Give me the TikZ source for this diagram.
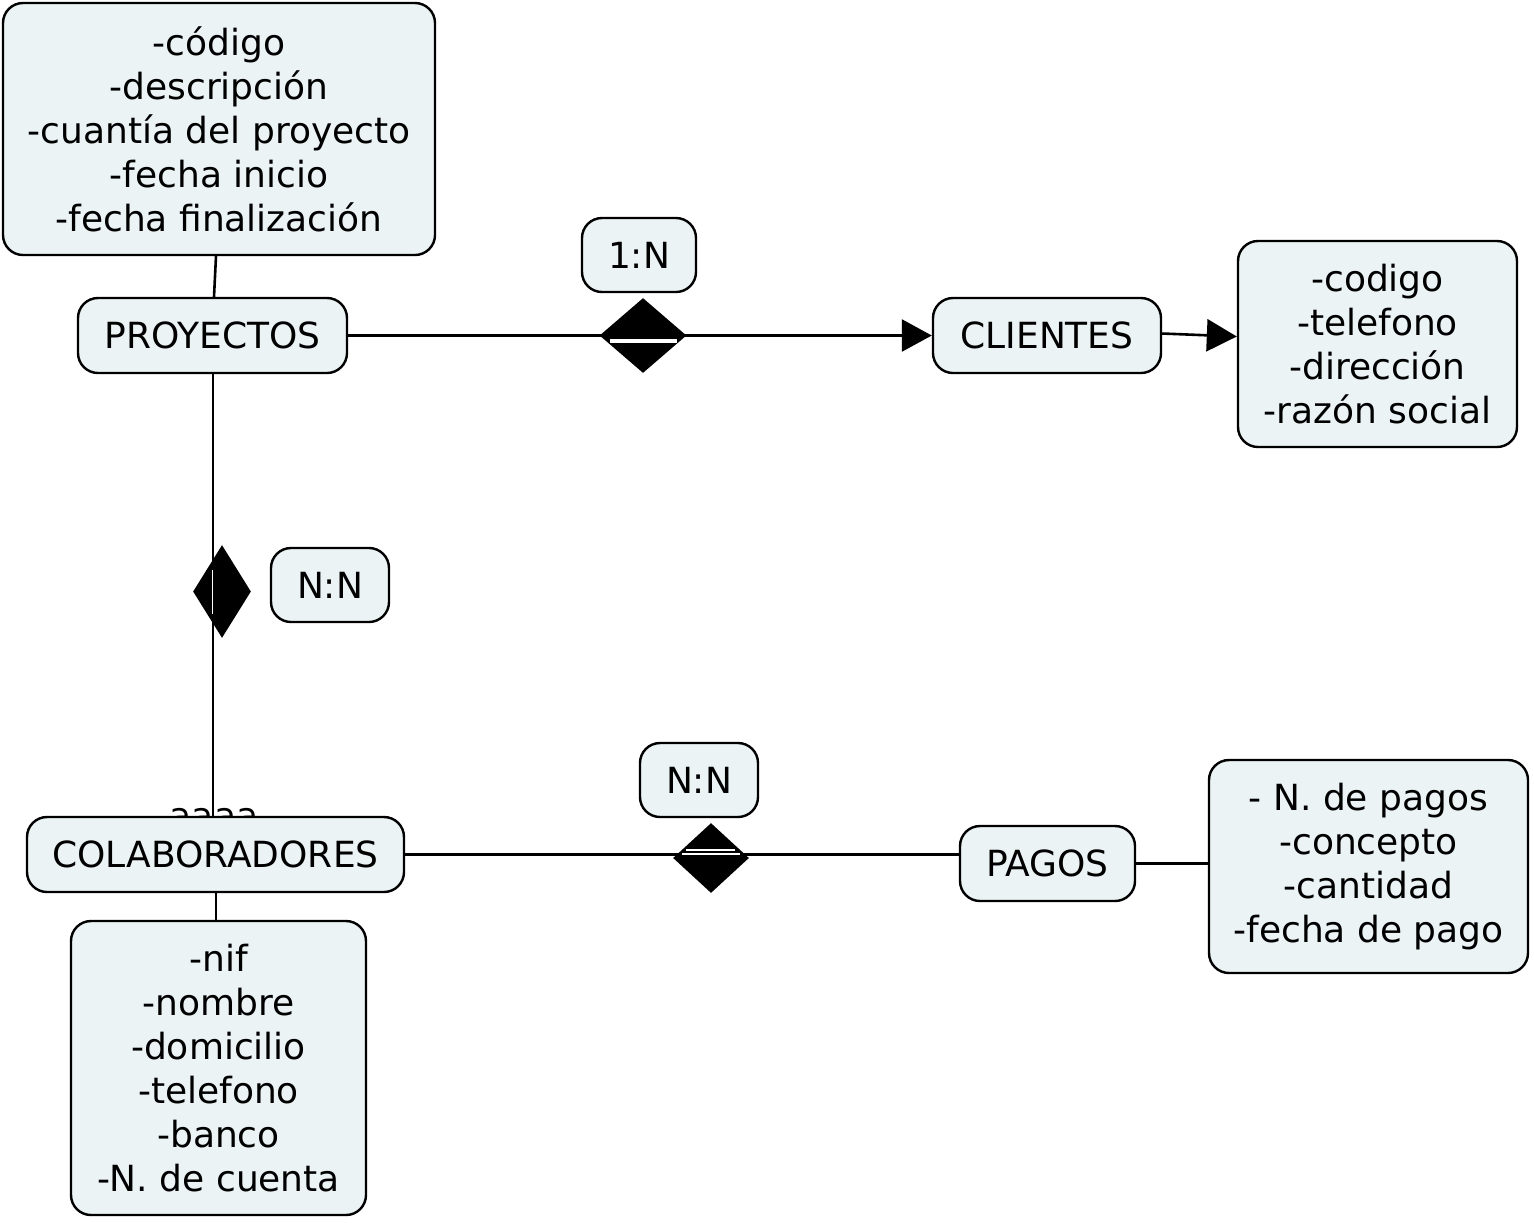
\documentclass[tikz,border=0pt]{standalone}
\usepackage{fontspec}
\setmainfont{DejaVu Sans}
\usetikzlibrary{arrows.meta,shapes.geometric}
\definecolor{boxfill}{HTML}{EBF3F5}
\tikzset{
  ent/.style={draw=black,line width=1.2pt,fill=boxfill,rounded corners=10pt,inner sep=0pt,font=\fontsize{18}{22}\selectfont,align=center},
  conn/.style={line width=1.3pt,draw=black},
  tri/.style={-{Triangle[length=15pt,width=16pt]}},
  dia/.style={diamond,fill=black,inner sep=0pt,aspect=1},
}
\begin{document}
\begin{tikzpicture}[x=0.5pt,y=-0.5pt]
\useasboundingbox (0,0) rectangle (1534,1222);
% hidden text
\node[anchor=base,font=\fontsize{18}{22}\selectfont] (hid) at (214,828) {aaaa};
% nodes
\node[ent,minimum width=216pt,minimum height=126pt] (projattr) at (219,129) {-código\\-descripción\\-cuantía del proyecto\\-fecha inicio\\-fecha finalización};
\node[ent,minimum width=134.5pt,minimum height=37.5pt] (proy) at (212.5,335.5) {PROYECTOS};
\node[ent,minimum width=57pt,minimum height=37pt] (l1) at (639,255) {1:N};
\node[ent,minimum width=114pt,minimum height=37.5pt] (cli) at (1047,335.5) {CLIENTES};
\node[ent,minimum width=139.5pt,minimum height=103pt] (cliattr) at (1377.5,344) {-codigo\\-telefono\\-dirección\\-razón social};
\node[ent,minimum width=59pt,minimum height=37pt] (l2) at (330,585) {N:N};
\node[ent,minimum width=59pt,minimum height=37pt] (l3) at (699,780) {N:N};
\node[ent,minimum width=87.5pt,minimum height=37.5pt] (pag) at (1047.5,863.5) {PAGOS};
\node[ent,minimum width=159.5pt,minimum height=106.5pt] (pagattr) at (1368.5,866.5) {- N. de pagos\\-concepto\\-cantidad\\-fecha de pago};
\node[ent,minimum width=147.5pt,minimum height=147pt] (colattr) at (218.5,1068) {-nif\\-nombre\\-domicilio\\-telefono\\-banco\\-N. de cuenta};
% connectors (behind COLABORADORES)
\coordinate (d1) at (643,335.5);
\coordinate (d2) at (222,591.5);
\coordinate (d3) at (711,858);
\draw[conn] (proy.east) -- (d1);
\draw[conn,tri] (d1) -- (cli.west);
\draw[conn,tri] ([yshift=1pt]cli.east) -- (cliattr.west |- 0,336.5);
\draw[conn] (proy.north -| 214,0) -- (projattr.south -| 216,0);
\coordinate (colt) at (213,817);
\draw[conn] (proy.south -| colt) -- (colt);
\node[ent,minimum width=188.5pt,minimum height=37.5pt] (col) at (215.5,854.5) {COLABORADORES};
\draw[conn] (col.south -| 216,0) -- (colattr.north -| 216,0);
\draw[conn] (col.east) -- (col.east -| pag.west);
\draw[conn] (pag.east) -- (pag.east -| pagattr.west);
% diamonds
\node[dia,minimum width=43.5pt,minimum height=37.5pt] (dm1) at (d1) {};
\draw[white,line width=1.6pt] (610,341) -- (677,341);
\node[dia,minimum width=29pt,minimum height=46.5pt] (dm2) at (d2) {};
\draw[white,line width=0.5pt] (212,570) -- (212,614);
\node[dia,minimum width=38pt,minimum height=35pt] (dm3) at (d3) {};
\draw[white,line width=0.6pt] (686,850) -- (735,850);
\draw[white,line width=0.6pt] (682,854) -- (740,854);
\end{tikzpicture}
\end{document}
